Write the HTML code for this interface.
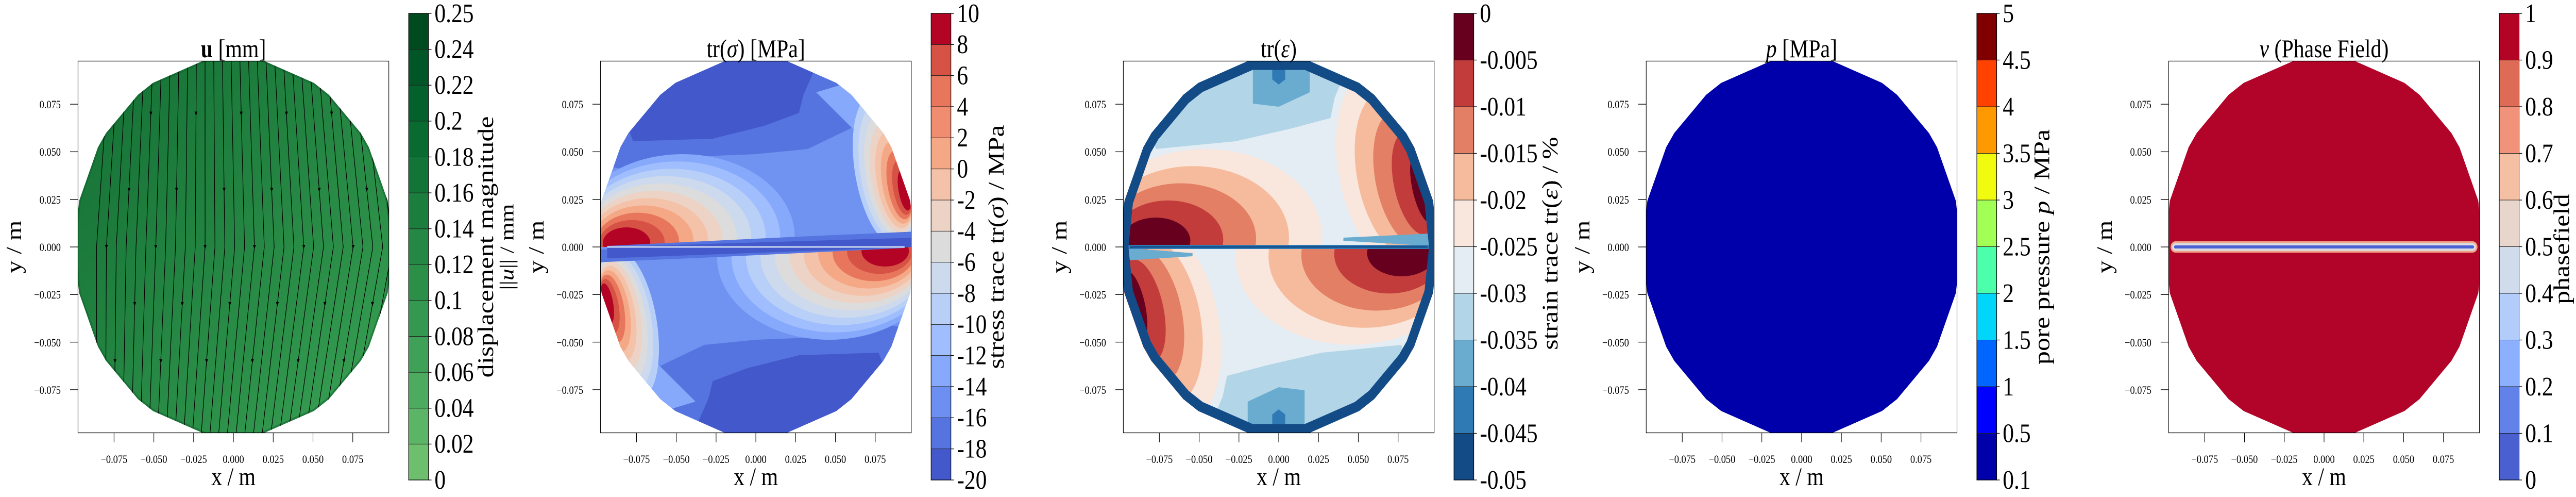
<!DOCTYPE html>
<html><head><meta charset="utf-8">
<style>
html,body{margin:0;padding:0;background:#fff;width:100%;height:100%;overflow:hidden;}
svg{display:block;width:100vw;height:100vh;}
text{font-family:"Liberation Serif","DejaVu Serif",serif;fill:#000;}
.tk{font-size:22px;}
.xt{text-anchor:middle;}
.yt{text-anchor:end;}
.al{font-size:50px;text-anchor:middle;}
.cl{font-size:52px;dominant-baseline:central;}
.ttl{font-size:50px;text-anchor:middle;}
</style></head>
<body>
<svg id="S" viewBox="0 0 5976 964" preserveAspectRatio="none" xmlns="http://www.w3.org/2000/svg">
<defs>
<clipPath id="cr" clipPathUnits="userSpaceOnUse"><rect x="-360.5" y="-360.5" width="721" height="721"/></clipPath>
<clipPath id="cp" clipPathUnits="userSpaceOnUse"><polygon id="cpp" points=""/></clipPath>
<clipPath id="ct" clipPathUnits="userSpaceOnUse"><rect x="-400" y="-400" width="800" height="400"/></clipPath>
<clipPath id="cbt" clipPathUnits="userSpaceOnUse"><rect x="-400" y="0" width="800" height="400"/></clipPath>
<linearGradient id="gg" x1="0" y1="0" x2="1" y2="1">
<stop offset="0" stop-color="#136f35"/><stop offset="0.35" stop-color="#1f7f3e"/><stop offset="0.7" stop-color="#2c9049"/><stop offset="1" stop-color="#3da557"/></linearGradient>
</defs>
<g id="fields"></g>
<g id="cbs"></g>

<g id="t1" transform="translate(181,0)">
<text class="ttl" x="360.5" y="111"><tspan font-weight="bold">u</tspan> [mm]</text>
<text class="al" transform="translate(-149,479) rotate(-90)" dy="17">y / m</text>
<text class="al" x="360.5" y="941">x / m</text>
<g class="tk xt"><text x="83.6" y="898">−0.075</text><text x="175.9" y="898">−0.050</text><text x="268.2" y="898">−0.025</text><text x="360.5" y="898">0.000</text><text x="452.8" y="898">0.025</text><text x="545.1" y="898">0.050</text><text x="637.4" y="898">0.075</text></g>
<g class="tk yt"><text x="-40" y="210">0.075</text><text x="-40" y="302">0.050</text><text x="-40" y="395">0.025</text><text x="-40" y="487">0.000</text><text x="-40" y="579">−0.025</text><text x="-40" y="672">−0.050</text><text x="-40" y="764">−0.075</text></g>
<g class="cl"><text x="827" y="931">0</text><text x="827" y="861.4">0.02</text><text x="827" y="791.8">0.04</text><text x="827" y="722.2">0.06</text><text x="827" y="652.5">0.08</text><text x="827" y="582.9">0.1</text><text x="827" y="513.3">0.12</text><text x="827" y="443.7">0.14</text><text x="827" y="374.1">0.16</text><text x="827" y="304.5">0.18</text><text x="827" y="234.8">0.2</text><text x="827" y="165.2">0.22</text><text x="827" y="95.6">0.24</text><text x="827" y="26">0.25</text></g>
<text class="al" style="font-size:52px" transform="translate(946,479) rotate(-90)" dy="17">displacement magnitude</text>
<text class="al" style="font-size:46px" transform="translate(995,479) rotate(-90)" dy="15">||<tspan font-style="italic">u</tspan>|| / mm</text>
</g>

<g id="t2" transform="translate(1393,0)">
<text class="ttl" x="360.5" y="111">tr(<tspan font-style="italic">σ</tspan>) [MPa]</text>
<text class="al" transform="translate(-149,479) rotate(-90)" dy="17">y / m</text>
<text class="al" x="360.5" y="941">x / m</text>
<g class="tk xt"><text x="83.6" y="898">−0.075</text><text x="175.9" y="898">−0.050</text><text x="268.2" y="898">−0.025</text><text x="360.5" y="898">0.000</text><text x="452.8" y="898">0.025</text><text x="545.1" y="898">0.050</text><text x="637.4" y="898">0.075</text></g>
<g class="tk yt"><text x="-40" y="210">0.075</text><text x="-40" y="302">0.050</text><text x="-40" y="395">0.025</text><text x="-40" y="487">0.000</text><text x="-40" y="579">−0.025</text><text x="-40" y="672">−0.050</text><text x="-40" y="764">−0.075</text></g>
<g class="cl"><text x="827" y="931">-20</text><text x="827" y="870.7">-18</text><text x="827" y="810.3">-16</text><text x="827" y="750">-14</text><text x="827" y="689.7">-12</text><text x="827" y="629.3">-10</text><text x="827" y="569">-8</text><text x="827" y="508.7">-6</text><text x="827" y="448.3">-4</text><text x="827" y="388">-2</text><text x="827" y="327.7">0</text><text x="827" y="267.3">2</text><text x="827" y="207">4</text><text x="827" y="146.7">6</text><text x="827" y="86.3">8</text><text x="827" y="26">10</text></g>
<text class="al" style="font-size:52px" transform="translate(918,479) rotate(-90)" dy="17">stress trace tr(<tspan font-style="italic">σ</tspan>) / MPa</text>
</g>

<g id="t3" transform="translate(2606,0)">
<text class="ttl" x="360.5" y="111">tr(<tspan font-style="italic">ε</tspan>)</text>
<text class="al" transform="translate(-149,479) rotate(-90)" dy="17">y / m</text>
<text class="al" x="360.5" y="941">x / m</text>
<g class="tk xt"><text x="83.6" y="898">−0.075</text><text x="175.9" y="898">−0.050</text><text x="268.2" y="898">−0.025</text><text x="360.5" y="898">0.000</text><text x="452.8" y="898">0.025</text><text x="545.1" y="898">0.050</text><text x="637.4" y="898">0.075</text></g>
<g class="tk yt"><text x="-40" y="210">0.075</text><text x="-40" y="302">0.050</text><text x="-40" y="395">0.025</text><text x="-40" y="487">0.000</text><text x="-40" y="579">−0.025</text><text x="-40" y="672">−0.050</text><text x="-40" y="764">−0.075</text></g>
<g class="cl"><text x="827" y="931">-0.05</text><text x="827" y="840.5">-0.045</text><text x="827" y="750">-0.04</text><text x="827" y="659.5">-0.035</text><text x="827" y="569">-0.03</text><text x="827" y="478.5">-0.025</text><text x="827" y="388">-0.02</text><text x="827" y="297.5">-0.015</text><text x="827" y="207">-0.01</text><text x="827" y="116.5">-0.005</text><text x="827" y="26">0</text></g>
<text class="al" style="font-size:52px" transform="translate(990,472) rotate(-90)" dy="17">strain trace tr(<tspan font-style="italic">ε</tspan>) / %</text>
</g>

<g id="t4" transform="translate(3819,0)">
<text class="ttl" x="360.5" y="111"><tspan font-style="italic">p</tspan> [MPa]</text>
<text class="al" transform="translate(-149,479) rotate(-90)" dy="17">y / m</text>
<text class="al" x="360.5" y="941">x / m</text>
<g class="tk xt"><text x="83.6" y="898">−0.075</text><text x="175.9" y="898">−0.050</text><text x="268.2" y="898">−0.025</text><text x="360.5" y="898">0.000</text><text x="452.8" y="898">0.025</text><text x="545.1" y="898">0.050</text><text x="637.4" y="898">0.075</text></g>
<g class="tk yt"><text x="-40" y="210">0.075</text><text x="-40" y="302">0.050</text><text x="-40" y="395">0.025</text><text x="-40" y="487">0.000</text><text x="-40" y="579">−0.025</text><text x="-40" y="672">−0.050</text><text x="-40" y="764">−0.075</text></g>
<g class="cl"><text x="827" y="931">0.1</text><text x="827" y="840.5">0.5</text><text x="827" y="750">1</text><text x="827" y="659.5">1.5</text><text x="827" y="569">2</text><text x="827" y="478.5">2.5</text><text x="827" y="388">3</text><text x="827" y="297.5">3.5</text><text x="827" y="207">4</text><text x="827" y="116.5">4.5</text><text x="827" y="26">5</text></g>
<text class="al" style="font-size:52px" transform="translate(918,479) rotate(-90)" dy="17">pore pressure <tspan font-style="italic">p</tspan> / MPa</text>
</g>

<g id="t5" transform="translate(5031,0)">
<text class="ttl" x="360.5" y="111"><tspan font-style="italic">v</tspan> (Phase Field)</text>
<text class="al" transform="translate(-149,479) rotate(-90)" dy="17">y / m</text>
<text class="al" x="360.5" y="941">x / m</text>
<g class="tk xt"><text x="83.6" y="898">−0.075</text><text x="175.9" y="898">−0.050</text><text x="268.2" y="898">−0.025</text><text x="360.5" y="898">0.000</text><text x="452.8" y="898">0.025</text><text x="545.1" y="898">0.050</text><text x="637.4" y="898">0.075</text></g>
<g class="tk yt"><text x="-40" y="210">0.075</text><text x="-40" y="302">0.050</text><text x="-40" y="395">0.025</text><text x="-40" y="487">0.000</text><text x="-40" y="579">−0.025</text><text x="-40" y="672">−0.050</text><text x="-40" y="764">−0.075</text></g>
<g class="cl"><text x="827" y="931">0</text><text x="827" y="840.5">0.1</text><text x="827" y="750">0.2</text><text x="827" y="659.5">0.3</text><text x="827" y="569">0.4</text><text x="827" y="478.5">0.5</text><text x="827" y="388">0.6</text><text x="827" y="297.5">0.7</text><text x="827" y="207">0.8</text><text x="827" y="116.5">0.9</text><text x="827" y="26">1</text></g>
<text class="al" style="font-size:52px" transform="translate(912,483) rotate(-90)" dy="17">phasefield</text>
</g>
</svg>
<script>
(function(){
var NS="http://www.w3.org/2000/svg";
function el(t,a,p){var e=document.createElementNS(NS,t);for(var k in a)e.setAttribute(k,a[k]);if(p)p.appendChild(e);return e;}
var R=369;
var A=[0,14,31.6,36.8,53.1,59.6,80,100,120.4,126.9,143.2,148.4,166,180,194,211.6,216.8,233.1,239.6,260,280,300.4,306.9,323.2,328.4,346];
function pts(s){return A.map(function(a){var r=a*Math.PI/180;return (R*s*Math.cos(r)).toFixed(1)+","+(-R*s*Math.sin(r)).toFixed(1);}).join(" ");}
document.getElementById("cpp").setAttribute("points",pts(1));
var F=document.getElementById("fields"),C=document.getElementById("cbs");
var Ls=[181,1393,2606,3819,5031];
function panel(i){
  var L=Ls[i];
  var g=el("g",{transform:"translate("+(L+360.5)+",479)"},F);
  var c1=el("g",{"clip-path":"url(#cr)"},g);
  var c2=el("g",{"clip-path":"url(#cp)"},c1);
  return {g:g,c:c2,c1:c1,L:L};
}
function frame(p){
  el("rect",{x:-360.5,y:-360.5,width:721,height:721,fill:"none",stroke:"#000","stroke-width":1.3},p.g);
  for(var k=-3;k<=3;k++){
    var x=k*92.3;
    el("line",{x1:x,y1:360.5,x2:x,y2:379,stroke:"#000","stroke-width":1.3},p.g);
    el("line",{x1:-360.5,y1:x,x2:-379,y2:x,stroke:"#000","stroke-width":1.3},p.g);
  }
}
function ell(par,cx,cy,rx,ry,col,rot){el("ellipse",{cx:cx,cy:cy,rx:rx,ry:ry,fill:col,transform:"rotate("+(rot||0)+" "+cx+" "+cy+")"},par);}
function lerp(a,b,t){return a+(b-a)*t;}
function lobes(pt,pb,cols,c0,c1,r0,r1,rot){
  var n=cols.length;
  for(var i=0;i<n;i++){var t=i/(n-1);
    var cx=lerp(c0[0],c1[0],t),cy=lerp(c0[1],c1[1],t),rx=lerp(r0[0],r1[0],t),ry=lerp(r0[1],r1[1],t);
    ell(pt,cx,cy,rx,ry,cols[i],rot||0);
    ell(pb,-cx,-cy,rx,ry,cols[i],rot||0);
  }
}
function halves(par){return [el("g",{"clip-path":"url(#ct)"},par),el("g",{"clip-path":"url(#cbt)"},par)];}
function colorbar(L,cols){
  var x=L+767,n=cols.length,h=905/n;
  for(var i=0;i<n;i++){el("rect",{x:x,y:931-(i+1)*h,width:46,height:h+0.5,fill:cols[i]},C);}
  for(var i=1;i<n;i++){var y=931-i*h;el("line",{x1:x,y1:y,x2:x+46,y2:y,stroke:"#222","stroke-width":1},C);}
  for(var i=0;i<=n;i++){var y=931-i*h;el("line",{x1:x+46,y1:y,x2:x+53,y2:y,stroke:"#000","stroke-width":1.3},C);}
  el("rect",{x:x,y:26,width:46,height:905,fill:"none",stroke:"#000","stroke-width":1.3},C);
}
// Panel 1
var p=panel(0);
el("polygon",{points:pts(1),fill:"url(#gg)"},p.c);
el("polygon",{points:pts(1),fill:"none",stroke:"#0d5f2b","stroke-width":8,opacity:0.5},p.c);
var cnt=0;
for(var x0=-0.093;x0<=0.094;x0+=0.0062){
  var d="";
  for(var y=-0.1;y<=0.1001;y+=0.01){
    var xx=x0*(1-0.12*Math.abs(y)/0.1)+0.007*(1-Math.abs(y)/0.1)-0.004*(y/0.1);
    d+=(d?"L":"M")+(xx*3692).toFixed(1)+","+(y*3692).toFixed(1);
  }
  el("path",{d:d,fill:"none",stroke:"#000","stroke-width":1.4},p.c);
  var ya=[-0.07,0.0,0.06,-0.03,0.03][cnt%5];cnt++;
  var xa=(x0*(1-0.12*Math.abs(ya)/0.1)+0.007*(1-Math.abs(ya)/0.1)-0.004*(ya/0.1))*3692, yp=ya*3692;
  el("polygon",{points:(xa-3.5)+","+(yp-4)+" "+(xa+3.5)+","+(yp-4)+" "+xa+","+(yp+4),fill:"#000"},p.c);
}
frame(p);
colorbar(181,['#6dbf6e','#5cb466','#4cab5e','#3fa157','#349850','#2b8f48','#248743','#1c7e3d','#137437','#0a6b31','#05612c','#005626','#004a20']);
// Panel 2
p=panel(1);
el("polygon",{points:pts(1),fill:"#7093f2"},p.c);
el("polygon",{points:"-370,-370 370,-370 370,-250 220,-230 120,-190 0,-180 -150,-175 -300,-150 -370,-160",fill:"#5674df"},p.c);
el("polygon",{points:"370,370 -370,370 -370,250 -220,230 -120,190 0,180 150,175 300,150 370,160",fill:"#5674df"},p.c);
el("polygon",{points:"-300,-370 150,-370 110,-294 100,-260 20,-235 -100,-210 -285,-205 -300,-240",fill:"#4359cb"},p.c);
el("polygon",{points:"300,370 -150,370 -110,294 -100,260 -20,235 100,210 285,205 300,240",fill:"#4359cb"},p.c);
el("polygon",{points:"140,-300 260,-200 340,-120 370,-60 370,-250 260,-330",fill:"#86a9fb"},p.c);
el("polygon",{points:"-140,300 -260,200 -340,120 -370,60 -370,250 -260,330",fill:"#86a9fb"},p.c);
var h2=halves(p.c);
var hot=['#86a9fb','#a0befe','#b8cff8','#cdd9ec','#dddcdc','#ecd3c5','#f4c2a9','#f4a886','#e8765c','#d65244','#b40426'];
lobes(h2[0],h2[1],hot,[-170,-20],[-300,-8],[260,160],[55,30],0);
lobes(h2[0],h2[1],hot.slice(2),[300,-150],[345,-110],[70,150],[14,40],-12);
el("polygon",{points:"-345,0 -100,0 370,-5 370,-30 100,-20 -345,-2",fill:"#5674df"},p.c);
el("polygon",{points:"345,0 100,0 -370,5 -370,30 -100,20 345,2",fill:"#5674df"},p.c);
el("polygon",{points:"-345,0 370,-18 370,0 -345,22",fill:"#4359cb"},p.c);
el("rect",{x:-345,y:-1.5,width:690,height:3,fill:"#c9d6f2"},p.c);
frame(p);
colorbar(1393,['#4359cb','#5674df','#6e8ff2','#86a9fb','#a0befe','#b8cff8','#cdd9ec','#dddcdc','#ecd3c5','#f4c2a9','#f4a886','#f08c6f','#e8765c','#d65244','#b40426']);
// Panel 3
p=panel(2);
el("polygon",{points:pts(1),fill:"#e4edf3"},p.c);
el("polygon",{points:"-300,-370 170,-370 130,-290 120,-250 30,-230 -100,-205 -285,-190 -300,-240",fill:"#b2d5e7"},p.c);
el("polygon",{points:"300,370 -170,370 -130,290 -120,250 -30,230 100,205 285,190 300,240",fill:"#b2d5e7"},p.c);
el("polygon",{points:"-60,-370 72,-370 72,-300 0,-272 -60,-278",fill:"#6aacd0"},p.c);
el("polygon",{points:"60,370 -72,370 -72,300 0,272 60,278",fill:"#6aacd0"},p.c);
el("polygon",{points:"-15,-350 15,-350 15,-325 0,-315 -15,-325",fill:"#2f79b5"},p.c);
el("polygon",{points:"15,350 -15,350 -15,325 0,315 15,325",fill:"#2f79b5"},p.c);
var h3=halves(p.c);
var rd=['#f9e6dd','#f6bb9c','#e27f65','#c33c3c','#67001f'];
lobes(h3[0],h3[1],rd,[-170,-20],[-285,-12],[270,170],[80,45],0);
lobes(h3[0],h3[1],rd,[260,-150],[335,-115],[120,200],[25,70],-15);
el("polygon",{points:"-350,2 -200,12 -200,18 -350,26",fill:"#6aacd0"},p.c);
el("polygon",{points:"350,-2 150,-12 150,-18 350,-26",fill:"#6aacd0"},p.c);
el("polygon",{points:"-350,-4 350,-4 350,4 -350,4",fill:"#2f79b5"},p.c);
el("rect",{x:-345,y:-1.5,width:690,height:3,fill:"#134b87"},p.c);
el("path",{d:"M"+pts(1).split(" ").join(" L")+" Z M"+pts(0.945).split(" ").join(" L")+" Z","fill-rule":"evenodd",fill:"#134b87"},p.c);
frame(p);
colorbar(2606,['#134b87','#2f79b5','#6aacd0','#b2d5e7','#e4edf3','#f9e6dd','#f6bb9c','#e27f65','#c33c3c','#67001f']);
// Panel 4
p=panel(3);
el("polygon",{points:pts(1),fill:"#0000aa"},p.c);
frame(p);
colorbar(3819,['#0000aa','#0000ff','#0066ff','#00d6fa','#4cffaa','#a2ff55','#f0fb0f','#ff9900','#ff4200','#800000']);
// Panel 5
p=panel(4);
el("polygon",{points:pts(1),fill:"#b20429"},p.c);
el("line",{x1:-345,y1:0,x2:345,y2:0,stroke:"#f2a487","stroke-width":22,"stroke-linecap":"round"},p.c);
el("line",{x1:-345,y1:0,x2:345,y2:0,stroke:"#dcdde2","stroke-width":15,"stroke-linecap":"round"},p.c);
el("line",{x1:-345,y1:0,x2:345,y2:0,stroke:"#4a62d2","stroke-width":6,"stroke-linecap":"round"},p.c);
frame(p);
colorbar(5031,['#4a5fd0','#6282ea','#8caffe','#b3cdfb','#d0dbec','#e8d6cc','#f5bfa4','#f0937a','#de6b55','#b40426']);
})();
</script>
</body></html>
